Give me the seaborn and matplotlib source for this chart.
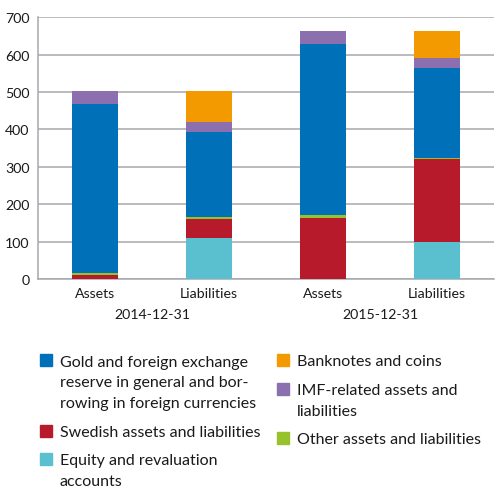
import numpy as np
import matplotlib
matplotlib.use("Agg")
import matplotlib.pyplot as plt
from matplotlib.patches import Rectangle
import seaborn as sns

# ── Data (SEK billion) ────────────────────────────────────────────────────────
bar_keys   = ["A14", "L14", "A15", "L15"]
bar_labels = ["Assets", "Liabilities", "Assets", "Liabilities"]
dates      = ["2014-12-31", "2015-12-31"]

# stacked bottom -> top
series = ["Equity and revaluation accounts", "Swedish assets and liabilities",
          "Other assets and liabilities",
          "Gold and foreign exchange reserve in general and borrowing in foreign currencies",
          "IMF-related assets and liabilities", "Banknotes and coins"]
equity    = [0, 110, 0, 99]
swedish   = [11, 50, 163, 222]
other     = [5, 6, 8, 3]
gold      = [452, 227, 458, 240]
imf       = [35, 27, 34, 27]
banknotes = [0, 83, 0, 72]

colors = ["#5abfce", "#b71b2b", "#97c22b", "#0070b8", "#8c6faf", "#f39a00"]

# ── Plot ──────────────────────────────────────────────────────────────────────
sns.set_style("white")
plt.rcParams["font.family"] = ["Lato", "DejaVu Sans"]

W, H = 495, 489
fig = plt.figure(figsize=(W / 100, H / 100), dpi=100)
ax = fig.add_axes([38 / W, 1 - 280 / H, 456 / W, (280 - 18.3) / H])

layers = np.array([equity, swedish, other, gold, imf, banknotes])
cum = layers.cumsum(axis=0)
# draw tallest cumulative first so lower layers sit on top
for i in range(len(layers) - 1, -1, -1):
    sns.barplot(x=bar_keys, y=cum[i], order=bar_keys, color=colors[i],
                saturation=1, width=0.4, linewidth=0, ax=ax, zorder=3)

ax.set_xlim(-0.5, 3.5)
ax.set_ylim(0, 700)
ax.set_yticks(range(0, 701, 100))
ax.yaxis.grid(True, color="#a7a7ae", lw=1.1, zorder=0)
ax.set_axisbelow(True)
for s in ["top", "right"]:
    ax.spines[s].set_visible(False)
for s in ["left", "bottom"]:
    ax.spines[s].set_color("#a7a7ae")
    ax.spines[s].set_linewidth(1.1)
ax.set_xticks(range(4))
ax.set_xticklabels(bar_labels)
ax.tick_params(axis="both", length=0, labelsize=10.2, colors="#1a1a1a", pad=6)
ax.tick_params(axis="y", pad=6)
ax.set_xlabel("")
ax.set_ylabel("")

for j, d in enumerate(dates):
    ax.text(2 * j + 0.5, -0.135, d, transform=ax.get_xaxis_transform(),
            ha="center", va="center", fontsize=10.2, color="#1a1a1a")

# ── Legend (two columns) ─────────────────────────────────────────────────────
legend_items = [
    (3, 40, 361, ["Gold and foreign exchange", "reserve in general and bor-",
                  "rowing in foreign currencies"]),
    (1, 40, 432, ["Swedish assets and liabilities"]),
    (0, 40, 460, ["Equity and revaluation", "accounts"]),
    (5, 277, 361, ["Banknotes and coins"]),
    (4, 277, 390, ["IMF-related assets and", "liabilities"]),
    (2, 277, 439, ["Other assets and liabilities"]),
]
for idx, x0, yc, lines in legend_items:
    fig.patches.append(Rectangle((x0 / W, 1 - (yc + 6) / H), 12 / W, 12 / H,
                                 transform=fig.transFigure, color=colors[idx]))
    for k, line in enumerate(lines):
        fig.text((x0 + 20) / W, 1 - (yc + 21 * k) / H, line, ha="left",
                 va="center_baseline", fontsize=11.5, color="#1a1a1a")

plt.savefig("out.png", dpi=100)
